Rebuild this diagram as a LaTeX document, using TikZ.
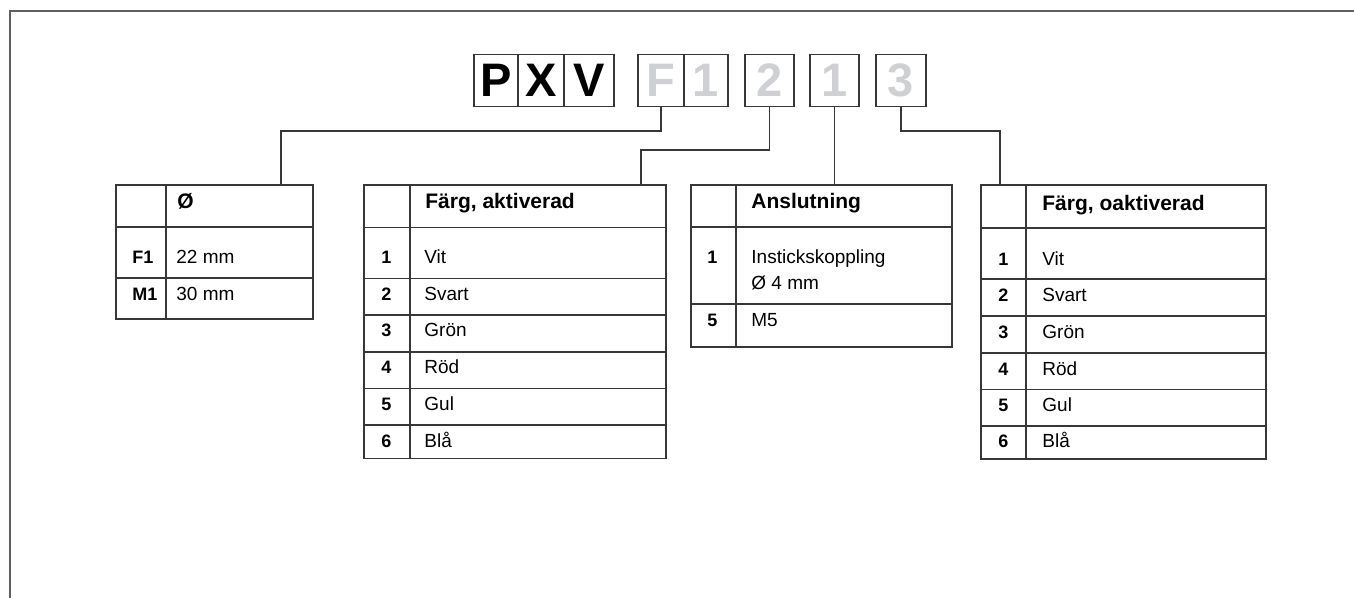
\documentclass[tikz,border=0pt]{standalone}
\usepackage{fontspec}
\setmainfont{Liberation Sans}
\usepackage{xcolor}
\usetikzlibrary{positioning, fit}
\definecolor{linegray}{RGB}{55,55,55}
\definecolor{framegray}{RGB}{95,95,95}
\definecolor{codegray}{RGB}{206,208,211}

\begin{document}
\begin{tikzpicture}[
    x=0.5pt, y=-0.5pt,
    codecell/.style={
        draw=linegray,
        line width=0.75pt,
        inner sep=0pt,
        outer sep=0pt,
        minimum height=26.2pt,
        font=\fontsize{23.5}{24}\selectfont\bfseries
    },
    fixcell/.style={codecell, text=black},
    optcell/.style={codecell, text=codegray},
    tablebox/.style={draw=linegray, line width=0.7pt, inner sep=0pt},
    tabline/.style={draw=linegray, line width=0.7pt},
    head/.style={anchor=west, inner sep=0pt, text height=7pt, text depth=0pt, font=\fontsize{10.5}{12}\selectfont\bfseries},
    key/.style={anchor=west, inner sep=0pt, text height=7pt, text depth=0pt, font=\fontsize{9}{11}\selectfont\bfseries},
    entry/.style={anchor=west, inner sep=0pt, text height=7pt, text depth=0pt, font=\fontsize{9.5}{11}\selectfont},
    link/.style={draw=linegray, line width=0.7pt}
]
\useasboundingbox (0,0) rectangle (1354,598);

% frame
\draw[framegray, line width=0.8pt] (10,598) -- (10,11) -- (1354,11);

% type code
\node[fixcell, minimum width=22pt] (cP) at (496,80.5) {P};
\node[fixcell, minimum width=23pt, right=0pt of cP] (cX) {X};
\node[fixcell, minimum width=25pt, right=0pt of cX] (cV) {V};
\node[optcell, minimum width=23pt, right=12pt of cV] (cF) {F};
\node[optcell, minimum width=22pt, right=0pt of cF] (cFn) {1};
\node[optcell, minimum width=24.5pt, right=8.5pt of cFn] (cAct) {2};
\node[optcell, minimum width=24.5pt, right=8pt of cAct] (cConn) {1};
\node[optcell, minimum width=25pt, right=8.5pt of cConn] (cOff) {3};

% table: diameter
\coordinate (diamNW) at (116,185);
\coordinate (diamSE) at (313,319);
\node[tablebox, fit=(diamNW) (diamSE)] (diam) {};
\draw[tabline] (166,185) -- (166,319);
\draw[tabline] (116,227) -- (313,227);
\draw[tabline] (116,278) -- (313,278);
\node[head] (diamH) at (177,201.7) {Ø};
\node[key] (diamK1) at (132,256.7) {F1};
\node[entry] (diamE1) at (176,256.7) {22 mm};
\node[key] (diamK2) at (132,293.3) {M1};
\node[entry] (diamE2) at (176,293.3) {30 mm};

% table: colour, activated
\coordinate (actNW) at (364,185);
\coordinate (actSE) at (666,458.5);
\node[tablebox, fit=(actNW) (actSE)] (act) {};
\draw[tabline] (410,185) -- (410,458.5);
\foreach \y in {227.5,278.5,315,352,388.5,425}
    \draw[tabline] (364,\y) -- (666,\y);
\node[head] (actH) at (425,201.7) {Färg, aktiverad};
\foreach \n/\c/\y in {1/Vit/256.7, 2/Svart/293.3, 3/Grön/330, 4/Röd/366.7, 5/Gul/403.3, 6/Blå/440} {
    \node[key] (actK\n) at (381,\y) {\n};
    \node[entry] (actE\n) at (424,\y) {\c};
}

% table: connection
\coordinate (connNW) at (691,185);
\coordinate (connSE) at (952,347);
\node[tablebox, fit=(connNW) (connSE)] (conn) {};
\draw[tabline] (736,185) -- (736,347);
\draw[tabline] (691,227) -- (952,227);
\draw[tabline] (691,304) -- (952,304);
\node[head] (connH) at (751,201.7) {Anslutning};
\node[key] (connK1) at (707,256.7) {1};
\node[entry] (connE1) at (751,256.7) {Instickskoppling};
\node[entry] (connE1b) at (751,282.7) {Ø 4 mm};
\node[key] (connK5) at (707,319.3) {5};
\node[entry] (connE5) at (751,319.3) {M5};

% table: colour, deactivated
\coordinate (offNW) at (981,185);
\coordinate (offSE) at (1266,459);
\node[tablebox, fit=(offNW) (offSE)] (off) {};
\draw[tabline] (1026,185) -- (1026,459);
\foreach \y in {228,279,316,353,389.5,426}
    \draw[tabline] (981,\y) -- (1266,\y);
\node[head] (offH) at (1042,204) {Färg, oaktiverad};
\foreach \n/\c/\y in {1/Vit/259, 2/Svart/295, 3/Grön/331.7, 4/Röd/368.3, 5/Gul/405, 6/Blå/440.7} {
    \node[key] (offK\n) at (998,\y) {\n};
    \node[entry] (offE\n) at (1042,\y) {\c};
}

% leaders
\coordinate (diamIn) at (281,185);
\coordinate (actIn) at (641,185);
\coordinate (offIn) at (1000,185);
\draw[link] (cF.south) -- ++(0,24.5) -| (diamIn);
\draw[link] (cAct.south) -- ++(0,43.3) -| (actIn);
\draw[link] (cConn.south) -- (cConn.south |- conn.north);
\draw[link] (cOff.south) -- ++(0,24.5) -| (offIn);

\end{tikzpicture}
\end{document}
